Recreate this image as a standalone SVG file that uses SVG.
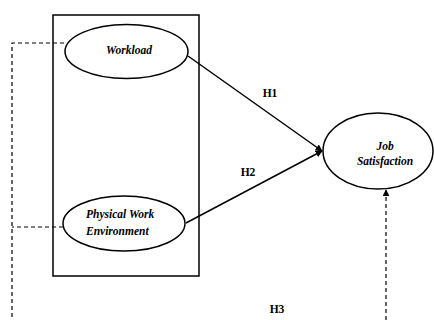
<svg xmlns="http://www.w3.org/2000/svg" width="434" height="320" viewBox="0 0 434 320">
<style>
.n{fill:#fff;stroke:#000;stroke-width:1.5}
.t{font-family:"Liberation Serif",serif;font-size:11.5px;font-weight:bold;font-style:italic;fill:#000}
.l{font-family:"Liberation Serif",serif;font-size:11.5px;font-weight:bold;fill:#000}
.c{fill:none;stroke:#000;stroke-width:1.5}
.d{fill:none;stroke:#000;stroke-width:1.2;stroke-dasharray:4,3}
</style>
<defs>
<marker id="a" viewBox="0 0 10 10" refX="9" refY="5" markerWidth="7" markerHeight="7" markerUnits="userSpaceOnUse" orient="auto"><path d="M0,0 L10,5 L0,10 z" fill="#000"/></marker>
</defs>
<rect x="53" y="15" width="146" height="261" fill="none" stroke="#000" stroke-width="1.5"/>
<g id="connectors">
<path class="c" d="M188,56 L322,151" marker-end="url(#a)"/>
<path class="c" d="M186,223 L322,151" marker-end="url(#a)"/>
<path class="d" d="M64,43 L12,43 L12,320"/>
<path class="d" d="M63,227 L12,227"/>
<path class="d" d="M386,320 L386,190" marker-end="url(#a)"/>
<text class="l" x="270" y="97" text-anchor="middle">H1</text>
<text class="l" x="248" y="176" text-anchor="middle">H2</text>
<text class="l" x="277" y="313" text-anchor="middle">H3</text>
</g>
<g id="workload">
<ellipse class="n" cx="126.5" cy="51.5" rx="61.5" ry="27"/>
<text class="t" x="129" y="54" text-anchor="middle">Workload</text>
</g>
<g id="physical">
<ellipse class="n" cx="124" cy="223.5" rx="61" ry="27.5"/>
<text class="t" x="86" y="218">Physical Work</text>
<text class="t" x="86" y="235">Environment</text>
</g>
<g id="job">
<ellipse class="n" cx="378" cy="151" rx="55" ry="38"/>
<text class="t" x="385" y="150" text-anchor="middle">Job</text>
<text class="t" x="385" y="165" text-anchor="middle">Satisfaction</text>
</g>
</svg>
